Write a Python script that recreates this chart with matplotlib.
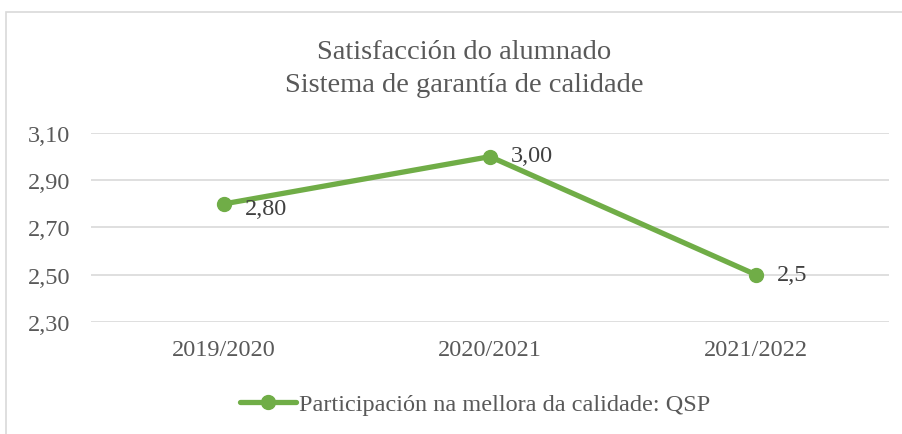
import matplotlib
matplotlib.use("Agg")
import matplotlib.pyplot as plt
from matplotlib.patches import Rectangle

categories = ["2019/2020", "2020/2021", "2021/2022"]
values = [2.80, 3.00, 2.50]
value_labels = ["2,80", "3,00", "2,5"]
yticks = [2.30, 2.50, 2.70, 2.90, 3.10]
ytick_labels = ["2,30", "2,50", "2,70", "2,90", "3,10"]
series_name = "Participación na mellora da calidade: QSP"
title = "Satisfacción do alumnado\nSistema de garantía de calidade"

plt.rcParams['font.family'] = ['Liberation Serif', 'DejaVu Serif']
W, H = 903, 435
fig = plt.figure(figsize=(W/100, H/100), dpi=100)
fig.patch.set_facecolor("white")
# chart border
fig.patches.append(Rectangle((6/W, -0.1), 1.2, (H-13)/H + 0.1, transform=fig.transFigure,
                             fill=False, edgecolor="#D9D9D9", linewidth=1.2))

left, right = 91/W, 889/W
top, bottom = 1 - 134/H, 1 - 323/H
ax = fig.add_axes([left, bottom, right-left, top-bottom])
color = "#70AD47"
x = list(range(len(categories)))
ax.plot(x, values, color=color, linewidth=3.8, marker="o", markersize=10,
        solid_capstyle="round", label=series_name, zorder=3, clip_on=False)
ax.set_xlim(-0.5, len(categories)-0.5)
ax.set_ylim(2.30, 3.10)
ax.set_yticks(yticks)
ax.set_yticklabels(ytick_labels)
ax.set_xticks(x)
ax.set_xticklabels(categories)
ax.grid(axis="y", color="#D9D9D9", linewidth=1.2)
ax.set_axisbelow(True)
for s in ax.spines.values():
    s.set_visible(False)
ax.tick_params(axis="both", length=0, labelsize=17.5, labelcolor="#595959")
ax.tick_params(axis="y", pad=15)
ax.tick_params(axis="x", pad=12)

offsets = [(15, -3), (15, 1), (15, 0)]
for xi, v, lab, off in zip(x, values, value_labels, offsets):
    ax.annotate(lab, (xi, v), xytext=off, textcoords="offset points",
                ha="left", va="center", fontsize=17.5, color="#404040")

fig.text(464/W, 1 - 69/H, title, ha="center", va="center", fontsize=20.5,
         color="#595959", linespacing=1.45)

leg = fig.legend(loc="center", bbox_to_anchor=(475/W, 1 - 405/H), frameon=False,
                 fontsize=17.5, handlelength=2.3, handletextpad=0.15)
for t in leg.get_texts():
    t.set_color("#595959")

fig.savefig("out.png", dpi=100)
